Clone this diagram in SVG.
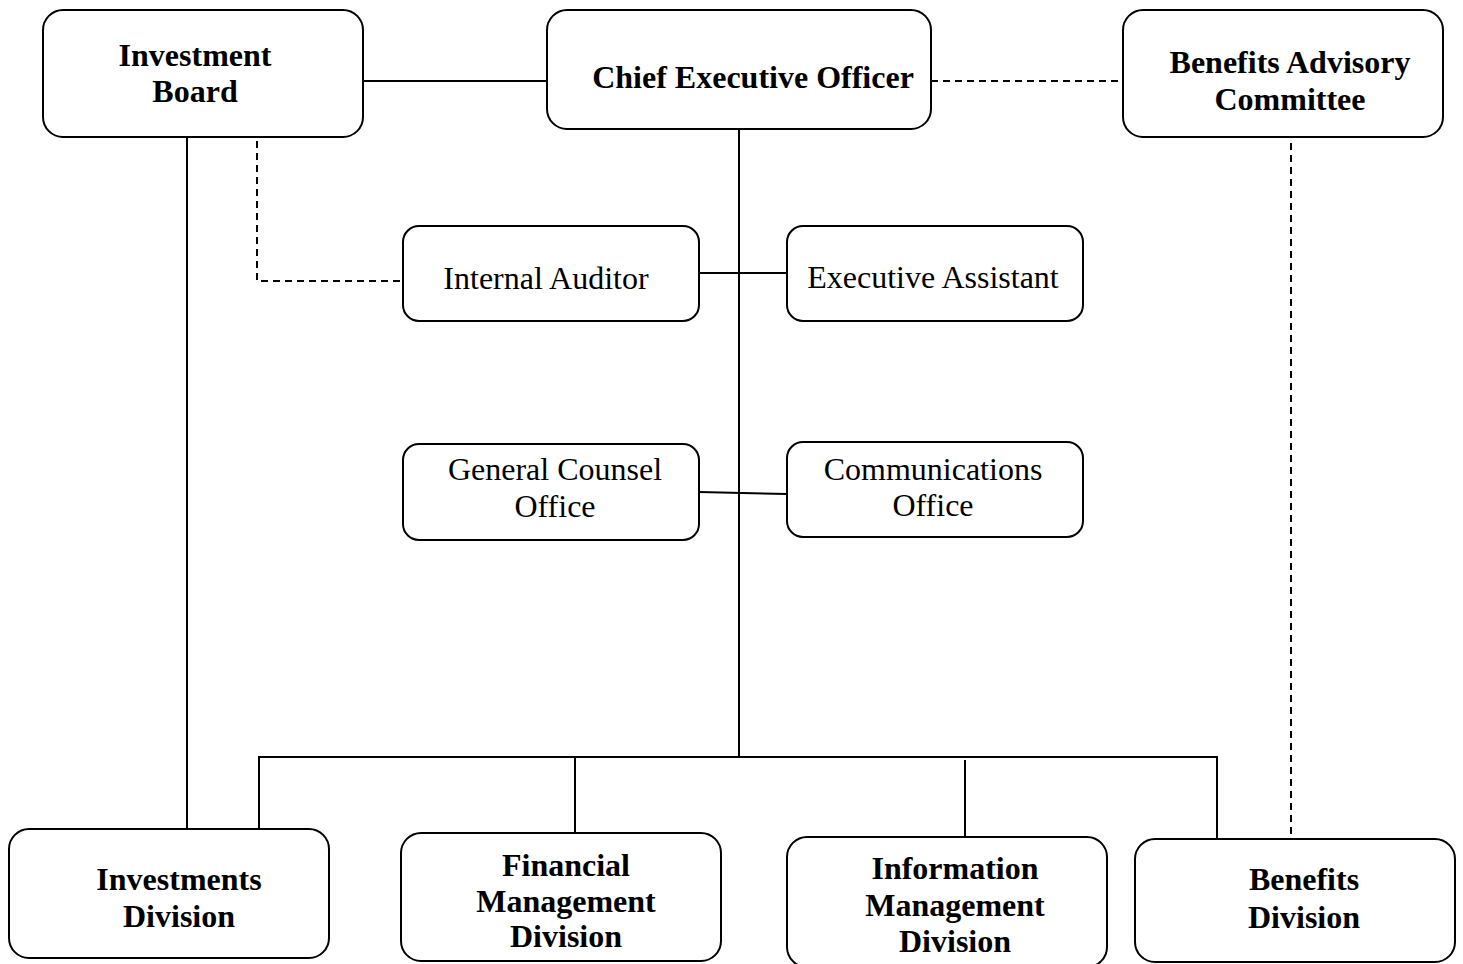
<svg xmlns="http://www.w3.org/2000/svg" width="1463" height="964" viewBox="0 0 1463 964">
<style>
.box{fill:#fff;stroke:#000;stroke-width:2}
.t{font-family:"Liberation Serif","Times New Roman",serif;font-size:32px;fill:#000;text-anchor:middle}
.b{font-weight:bold}
.ln{fill:none;stroke:#000;stroke-width:2}
.d{stroke-dasharray:7 5}
</style>
<rect width="1463" height="964" fill="#fff"/>
<g id="connectors">
<line class="ln" x1="363" y1="81" x2="547" y2="81"/>
<line class="ln d" x1="931" y1="81" x2="1123" y2="81"/>
<line class="ln" x1="187" y1="137" x2="187" y2="829"/>
<polyline class="ln d" points="257,141 257,281 403,281"/>
<line class="ln" x1="739" y1="129" x2="739" y2="757"/>
<line class="ln" x1="699" y1="273" x2="787" y2="273"/>
<line class="ln" x1="699" y1="492" x2="787" y2="494"/>
<polyline class="ln" points="259,829 259,757 1217,757 1217,839"/>
<line class="ln" x1="575" y1="757" x2="575" y2="834"/>
<line class="ln" x1="965" y1="760" x2="965" y2="838"/>
<line class="ln d" x1="1291" y1="143" x2="1291" y2="839"/>
</g>
<g id="investment-board">
<rect class="box" x="43" y="10" width="320" height="127" rx="20"/>
<text class="t b" x="195" y="66">Investment</text>
<text class="t b" x="195" y="102">Board</text>
</g>
<g id="ceo">
<rect class="box" x="547" y="10" width="384" height="119" rx="20"/>
<text class="t b" x="753" y="88">Chief Executive Officer</text>
</g>
<g id="benefits-advisory-committee">
<rect class="box" x="1123" y="10" width="320" height="127" rx="20"/>
<text class="t b" x="1290" y="73">Benefits Advisory</text>
<text class="t b" x="1290" y="110">Committee</text>
</g>
<g id="internal-auditor">
<rect class="box" x="403" y="226" width="296" height="95" rx="16"/>
<text class="t" x="546" y="289">Internal Auditor</text>
</g>
<g id="executive-assistant">
<rect class="box" x="787" y="226" width="296" height="95" rx="16"/>
<text class="t" x="933" y="288">Executive Assistant</text>
</g>
<g id="general-counsel">
<rect class="box" x="403" y="444" width="296" height="96" rx="16"/>
<text class="t" x="555" y="480">General Counsel</text>
<text class="t" x="555" y="517">Office</text>
</g>
<g id="communications">
<rect class="box" x="787" y="442" width="296" height="95" rx="16"/>
<text class="t" x="933" y="480">Communications</text>
<text class="t" x="933" y="516">Office</text>
</g>
<g id="investments-division">
<rect class="box" x="9" y="829" width="320" height="129" rx="20"/>
<text class="t b" x="179" y="890">Investments</text>
<text class="t b" x="179" y="927">Division</text>
</g>
<g id="financial-management">
<rect class="box" x="401" y="833" width="320" height="128" rx="20"/>
<text class="t b" x="566" y="876">Financial</text>
<text class="t b" x="566" y="912">Management</text>
<text class="t b" x="566" y="947">Division</text>
</g>
<g id="information-management">
<rect class="box" x="787" y="837" width="320" height="130" rx="20"/>
<text class="t b" x="955" y="879">Information</text>
<text class="t b" x="955" y="916">Management</text>
<text class="t b" x="955" y="952">Division</text>
</g>
<g id="benefits-division">
<rect class="box" x="1135" y="839" width="320" height="123" rx="20"/>
<text class="t b" x="1304" y="890">Benefits</text>
<text class="t b" x="1304" y="928">Division</text>
</g>
</svg>
